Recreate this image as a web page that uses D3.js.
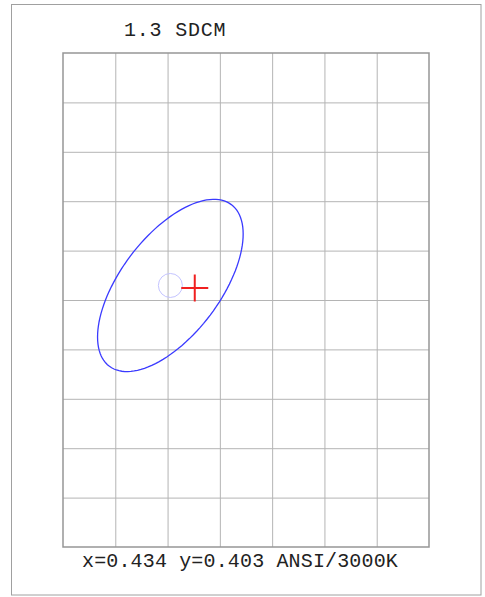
<!DOCTYPE html>
<html>
<head>
<meta charset="utf-8">
<script src="https://cdn.jsdelivr.net/npm/d3@7"></script>
<style>
  body { margin: 0; background: #fff; }
</style>
</head>
<body>
<div id="chart"></div>
<script>
// chromaticity window shown in the plot
var xDomain = [0.425, 0.455];
var yDomain = [0.3814, 0.4222];
var xCells = 7;
var yCells = 10;

// ANSI 3000K target and its ellipse
var center = [0.4338, 0.4030];
var ellipseAxes = [0.00834, 0.00408];
var ellipseAngle = 53.22;

// measured point
var measured = [0.4358, 0.4028];

var title = "1.3 SDCM";
var footer = "x=0.434 y=0.403 ANSI/3000K";

var width = 485, height = 597;
var plot = {left: 63, top: 53, right: 429, bottom: 547};

var svg = d3.select("#chart").append("svg")
  .attr("width", width)
  .attr("height", height);

// outer frame
svg.append("rect")
  .attr("x", 11.5)
  .attr("y", 4.5)
  .attr("width", 469.5)
  .attr("height", 590.5)
  .attr("fill", "none")
  .attr("stroke", "#a0a0a0")
  .attr("stroke-width", 1);

var x = d3.scaleLinear().domain(xDomain).range([plot.left, plot.right]);
var y = d3.scaleLinear().domain(yDomain).range([plot.bottom, plot.top]);

var xGrid = d3.range(1, xCells).map(function(i){
  return xDomain[0] + i * (xDomain[1] - xDomain[0]) / xCells;
});
var yGrid = d3.range(1, yCells).map(function(i){
  return yDomain[0] + i * (yDomain[1] - yDomain[0]) / yCells;
});

svg.append("g")
  .attr("transform", "translate(0," + plot.bottom + ")")
  .call(d3.axisBottom(x).tickValues(xGrid).tickSize(-(plot.bottom - plot.top)).tickFormat(""))
  .call(function(g){ g.select(".domain").remove(); })
  .selectAll("line")
  .attr("stroke", "#b4b4b4")
  .attr("stroke-width", 1);

svg.append("g")
  .attr("transform", "translate(" + plot.left + ",0)")
  .call(d3.axisLeft(y).tickValues(yGrid).tickSize(-(plot.right - plot.left)).tickFormat(""))
  .call(function(g){ g.select(".domain").remove(); })
  .selectAll("line")
  .attr("stroke", "#b4b4b4")
  .attr("stroke-width", 1);

// plot border
svg.append("rect")
  .attr("x", x(xDomain[0]))
  .attr("y", y(yDomain[1]))
  .attr("width", x(xDomain[1]) - x(xDomain[0]))
  .attr("height", y(yDomain[0]) - y(yDomain[1]))
  .attr("fill", "none")
  .attr("stroke", "#969696")
  .attr("stroke-width", 1.5);

// ellipse
var th = ellipseAngle * Math.PI / 180;
var ellipsePts = d3.range(0, 360, 3).map(function(deg){
  var t = deg * Math.PI / 180;
  var u = ellipseAxes[0] * Math.cos(t), v = ellipseAxes[1] * Math.sin(t);
  return [center[0] + u * Math.cos(th) - v * Math.sin(th),
          center[1] + u * Math.sin(th) + v * Math.cos(th)];
});

svg.append("path")
  .datum(ellipsePts)
  .attr("d", d3.line().x(function(d){ return x(d[0]); }).y(function(d){ return y(d[1]); }).curve(d3.curveLinearClosed))
  .attr("fill", "none")
  .attr("stroke", "#3a3aff")
  .attr("stroke-width", 1.3);

// target circle
svg.append("circle")
  .attr("cx", x(center[0]))
  .attr("cy", y(center[1]))
  .attr("r", 12)
  .attr("fill", "none")
  .attr("stroke", "#c4c4ff")
  .attr("stroke-width", 1);

// measured cross
var cx = x(measured[0]), cy = y(measured[1]);
svg.append("path")
  .attr("d", "M" + (cx - 13.5) + "," + cy + "H" + (cx + 13.5) + "M" + cx + "," + (cy - 13.5) + "V" + (cy + 13.5))
  .attr("stroke", "#f02020")
  .attr("stroke-width", 2)
  .attr("fill", "none");

svg.append("text")
  .attr("x", 124)
  .attr("y", 36)
  .text(title)
  .style("font-family", "'Liberation Mono', 'DejaVu Sans Mono', monospace")
  .style("font-size", "20px")
  .style("letter-spacing", "0.8px")
  .attr("fill", "#222");

svg.append("text")
  .attr("x", 82)
  .attr("y", 567)
  .text(footer)
  .style("font-family", "'Liberation Mono', 'DejaVu Sans Mono', monospace")
  .style("font-size", "20px")
  .style("letter-spacing", "0.15px")
  .attr("fill", "#222");
</script>
</body>
</html>
